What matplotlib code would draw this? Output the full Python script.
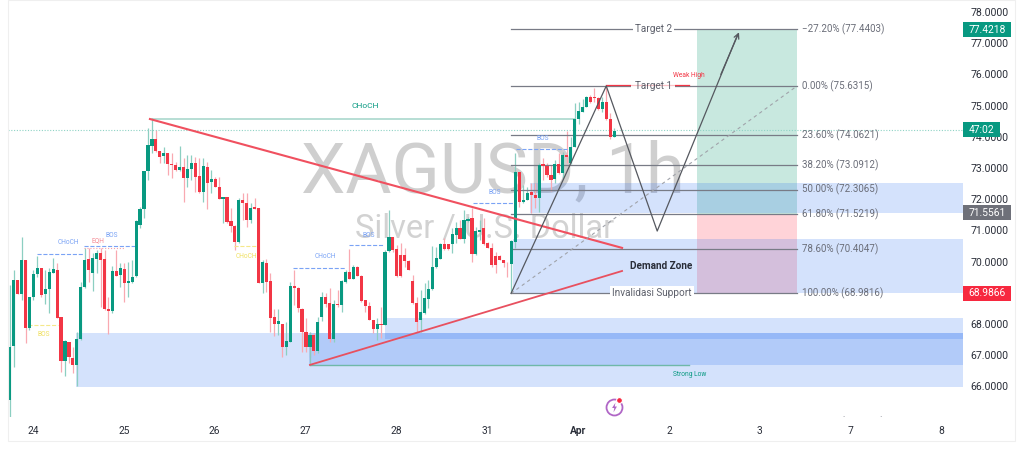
"""XAGUSD 1h chart with fib levels, demand zones and a long/short box."""
import matplotlib
matplotlib.use("Agg")
import matplotlib.pyplot as plt
import numpy as np
from matplotlib.patches import Rectangle

plt.rcParams["font.family"] = ["Roboto", "DejaVu Sans"]

# hourly candles
opens = [65.56, 67.29, 69.41, 68.96, 70.05, 67.87, 68.86, 69.60, 69.78, 68.96, 69.11, 69.62, 69.73, 68.21, 66.83, 67.43,
         66.90, 66.69, 67.51, 69.18, 70.08, 69.65, 70.08, 70.29, 70.09, 68.47, 68.43, 69.71, 69.57, 69.76, 69.30, 69.36,
         69.54, 71.16, 71.68, 72.91, 73.71, 73.92, 73.55, 73.39, 73.47, 73.13, 73.10, 72.94, 73.04, 72.68, 72.97, 73.17,
         72.74, 72.23, 73.02, 72.54, 72.65, 72.40, 72.00, 72.06, 71.30, 71.15, 70.62, 71.97, 71.89, 71.33, 71.74, 71.73,
         69.33, 69.97, 69.38, 68.24, 68.00, 68.00, 67.27, 67.42, 69.22, 69.17, 68.47, 67.74, 67.27, 67.64, 67.15, 68.24,
         68.88, 68.66, 67.53, 68.63, 68.61, 69.36, 69.67, 69.45, 69.84, 69.55, 68.77, 68.58, 68.13, 67.83, 68.00, 67.97,
         70.35, 70.80, 70.39, 70.21, 70.21, 70.03, 69.38, 68.66, 68.13, 68.34, 68.80, 69.12, 69.82, 70.08, 70.56, 70.56,
         70.55, 70.85, 71.07, 70.73, 71.30, 71.39, 70.23, 70.94, 71.07, 70.59, 70.45, 70.18, 70.19, 70.05, 69.97, 69.92,
         70.64, 72.88, 71.91, 71.98, 72.23, 72.15, 72.05, 73.13, 73.07, 72.78, 72.65, 73.13, 72.83, 73.41, 73.15, 73.68,
         74.56, 74.81, 74.97, 75.29, 75.28, 75.26, 74.88, 75.13, 74.57, 74.00]
highs = [69.25, 69.73, 69.41, 70.80, 70.05, 68.88, 69.73, 70.18, 69.78, 69.73, 69.78, 70.13, 69.95, 68.21, 67.49, 67.43,
         67.27, 67.75, 69.36, 70.43, 70.43, 70.27, 70.37, 70.43, 70.37, 68.88, 69.86, 70.37, 69.95, 69.95, 70.00, 70.05,
         71.33, 71.74, 72.91, 74.27, 74.59, 74.22, 73.55, 73.68, 73.47, 73.47, 73.20, 73.71, 73.31, 73.42, 73.42, 73.36,
         73.31, 73.31, 73.20, 72.94, 72.72, 72.72, 72.06, 72.06, 71.71, 71.17, 72.03, 72.19, 72.21, 71.87, 72.03, 71.73,
         70.05, 70.07, 69.62, 68.47, 68.47, 68.00, 68.07, 69.36, 69.73, 69.20, 68.50, 68.18, 67.75, 67.70, 68.24, 69.04,
         69.00, 69.14, 68.77, 69.09, 69.41, 69.73, 70.39, 69.89, 69.87, 69.57, 68.77, 68.72, 68.13, 68.18, 68.56, 70.37,
         71.66, 70.80, 70.53, 70.59, 70.43, 70.05, 69.57, 68.88, 69.09, 69.30, 69.41, 70.50, 70.48, 70.59, 70.75, 70.56,
         71.07, 71.28, 71.33, 71.66, 71.44, 71.71, 71.12, 71.33, 71.39, 70.64, 70.59, 70.32, 70.21, 70.05, 70.00, 70.69,
         73.47, 72.88, 72.46, 72.40, 72.51, 72.51, 73.15, 73.31, 73.15, 73.10, 73.26, 73.47, 73.52, 74.20, 73.98, 75.07,
         75.13, 75.20, 75.31, 75.34, 75.55, 75.29, 75.29, 75.59, 74.75, 74.27]
lows = [65.00, 66.63, 68.96, 68.77, 67.40, 67.81, 68.77, 69.52, 68.88, 68.64, 68.34, 69.62, 68.18, 66.47, 66.33, 66.74,
        66.42, 66.00, 67.49, 69.14, 69.36, 69.07, 69.65, 68.56, 68.45, 67.67, 68.34, 69.54, 69.20, 68.69, 68.88, 69.30,
        69.52, 71.07, 71.39, 72.62, 73.49, 73.52, 73.15, 73.15, 72.78, 72.67, 72.91, 72.91, 71.92, 72.40, 72.62, 72.24,
        72.21, 71.92, 71.68, 72.19, 72.38, 72.00, 71.23, 71.23, 70.96, 70.37, 70.61, 71.33, 71.12, 71.23, 71.68, 69.33,
        69.00, 69.04, 67.75, 67.62, 67.65, 66.93, 67.00, 67.42, 68.61, 68.40, 67.11, 67.11, 66.93, 67.00, 67.06, 68.11,
        68.56, 67.43, 67.43, 68.56, 68.40, 69.30, 69.43, 69.43, 69.54, 68.72, 68.40, 68.13, 67.70, 67.49, 67.54, 67.97,
        70.32, 70.32, 69.52, 69.52, 69.84, 69.73, 68.63, 67.76, 67.76, 68.32, 68.50, 69.09, 69.79, 70.07, 70.37, 70.37,
        70.27, 70.59, 70.72, 70.59, 71.28, 70.00, 70.21, 70.69, 70.53, 70.43, 69.84, 69.63, 70.05, 69.84, 69.52, 69.00,
        70.43, 71.76, 71.87, 71.98, 71.55, 71.71, 71.60, 72.62, 72.72, 72.27, 72.51, 72.81, 72.67, 73.15, 73.13, 73.66,
        74.41, 74.81, 74.94, 75.07, 75.13, 74.86, 74.81, 74.54, 73.92, 73.98]
closes = [67.27, 69.41, 68.96, 70.05, 67.88, 68.88, 69.60, 69.78, 68.94, 69.12, 69.67, 69.76, 68.19, 66.83, 67.47, 66.93,
          66.69, 67.51, 69.20, 70.05, 69.73, 70.11, 70.29, 70.05, 68.47, 68.43, 69.71, 69.55, 69.78, 69.33, 69.38, 69.52,
          71.30, 71.70, 72.91, 73.74, 73.92, 73.56, 73.36, 73.47, 73.13, 73.10, 72.94, 73.04, 72.68, 72.97, 73.17, 72.70,
          72.23, 73.06, 72.53, 72.65, 72.38, 72.02, 72.06, 71.26, 71.14, 70.64, 71.97, 71.89, 71.33, 71.73, 71.70, 69.33,
          70.00, 69.35, 68.20, 68.00, 68.09, 67.27, 67.47, 69.23, 69.14, 68.50, 67.73, 67.27, 67.65, 67.15, 68.07, 68.86,
          68.64, 67.53, 68.64, 68.60, 69.38, 69.67, 69.45, 69.82, 69.55, 68.75, 68.58, 68.13, 67.83, 68.00, 67.98, 70.32,
          70.80, 70.37, 69.55, 69.55, 70.02, 69.73, 68.66, 68.08, 68.40, 68.82, 69.12, 69.82, 70.11, 70.56, 70.39, 70.39,
          70.88, 71.07, 70.73, 71.33, 71.37, 70.23, 70.98, 71.01, 70.56, 70.43, 69.89, 69.89, 70.05, 69.97, 69.95, 70.66,
          72.88, 71.92, 71.99, 72.19, 72.15, 72.05, 73.10, 73.07, 72.78, 72.62, 73.13, 72.83, 73.41, 73.36, 73.68, 74.57,
          74.83, 74.94, 75.28, 75.13, 75.26, 74.89, 75.10, 74.56, 73.98, 74.20]

# fib levels of the drawing
fib_pct = ["\u221227.20%", "0.00%", "23.60%", "38.20%", "50.00%", "61.80%", "78.60%", "100.00%"]
fib_price = [77.4403, 75.6315, 74.0621, 73.0912, 72.3065, 71.5219, 70.4047, 68.9816]

price_ticks = [66, 67, 68, 70, 71, 72, 73, 74, 75, 76, 77, 78]
day_labels = ["24", "25", "26", "27", "28", "31", "Apr", "2", "3", "7", "8"]
bars_per_day = 23
first_day_bar = 5.9

# x0, x1, price low, price high
blue_zones = [(16.8, 241.3, 65.98, 67.71), (75.8, 241.3, 66.69, 67.71), (95.0, 241.3, 67.52, 68.19),
              (131.7, 241.3, 71.56, 72.52), (127.4, 241.3, 68.99, 70.72)]

# x0, x1, price, colour, linestyle
struct_lines = [(6.9, 18.8, 70.25, "#7aa3f5", "--"), (18.8, 31.7, 70.50, "#7aa3f5", "--"),
                (18.8, 29.0, 70.43, "#f7a0a8", ":"), (4.6, 12.2, 67.98, "#f5e88a", "--"),
                (56.7, 62.6, 70.50, "#f5e88a", "--"), (71.7, 85.0, 69.80, "#7aa3f5", "--"),
                (85.9, 94.5, 70.53, "#7aa3f5", "--"), (117.3, 127.4, 71.87, "#7aa3f5", "--"),
                (128.2, 141.1, 73.60, "#7aa3f5", "--")]
# x, price, text, colour
struct_labels = [(14.8, 70.60, "CHoCH", "#7aa3f5"), (25.9, 70.85, "BOS", "#7aa3f5"), (22.4, 70.68, "EQH", "#f58a94"),
                 (8.7, 67.65, "BOS", "#f0e060"), (59.8, 70.18, "CHoCH", "#f0e060"), (79.8, 70.15, "CHoCH", "#7aa3f5"),
                 (91.0, 70.85, "BOS", "#7aa3f5"), (122.9, 72.20, "BOS", "#7aa3f5"), (135.0, 73.95, "BOS", "#7aa3f5"),
                 (172.0, 66.37, "Strong Low", "#089981")]

GREEN, RED = "#089981", "#f23645"
GREY = "#787b86"
PURPLE = "#b066c6"

fig = plt.figure(figsize=(10.24, 4.54), dpi=100)
ax = fig.add_axes([8 / 1024, 37 / 454, 955 / 1024, 417 / 454])
ax.set_xlim(-0.43, 241.3)
ax.set_ylim(65.02, 78.385)

# outer frame of the chart pane
fig.add_artist(Rectangle((8 / 1024, 13 / 454), 1007 / 1024, 441 / 454, fill=False, ec="#efefef", lw=0.8,
                         transform=fig.transFigure))

# watermark
ax.text(122.4, 72.85, "XAGUSD, 1h", fontsize=51, color="#cfcfcf", ha="center", va="center", zorder=0)
ax.text(120.3, 71.05, "Silver / U.S. Dollar", fontsize=23.5, color="#d2d2d2", ha="center", va="center", zorder=0)

# zones
for x0, x1, lo, hi in blue_zones:
    ax.add_patch(Rectangle((x0, lo), x1 - x0, hi - lo, fc="#2a6ff0", alpha=0.2, ec="none", zorder=1))
ax.add_patch(Rectangle((174, 71.5219), 25.3, 77.4403 - 71.5219, fc="#c8e8df", ec="none", zorder=0.5))
ax.add_patch(Rectangle((174, 68.9816), 25.3, 71.5219 - 68.9816, fc="#ffd3d8", ec="none", zorder=0.5))

# candles
x = np.arange(len(opens))
opens, highs, lows, closes = map(np.array, (opens, highs, lows, closes))
up = closes >= opens
ax.vlines(x[up], lows[up], highs[up], color="#8ccfc1", lw=0.9, zorder=2)
ax.vlines(x[~up], lows[~up], highs[~up], color="#f9a9b1", lw=0.9, zorder=2)
ax.bar(x[up], (closes - opens)[up], bottom=opens[up], width=0.8, color=GREEN, zorder=3)
ax.bar(x[~up], (closes - opens)[~up], bottom=opens[~up], width=0.8, color=RED, zorder=3)

# current price dotted line
ax.axhline(74.22, color="#8fd3c5", lw=0.8, ls=(0, (1, 1.5)), zorder=2)

# choch line, strong low
ax.plot([36, 143], [74.57, 74.57], color="#a3d5c9", lw=1.1, zorder=2)
ax.text(89.9, 75.0, "CHoCH", color=GREEN, fontsize=6, ha="center", va="center", zorder=5)
ax.plot([76, 172], [66.69, 66.69], color="#6fb8a8", lw=1.0, zorder=4)
ax.plot([76, 76], [66.69, 67.7], color="#8fc9bd", lw=0.9, zorder=2)

for x0, x1, p, c, ls in struct_lines:
    ax.plot([x0, x1], [p, p], color=c, lw=0.8, ls=ls, zorder=2)
for bx, p, s, c in struct_labels:
    ax.text(bx, p, s, color=c, fontsize=4.8, ha="center", va="center", zorder=5)

# fib lines and their labels
for pct, p in zip(fib_pct, fib_price):
    ax.plot([126.9, 199.3], [p, p], color=GREY, lw=0.9, zorder=2.5)
    ax.text(200.6, p, f"{pct} ({p:.4f})", color="#6a6d78", fontsize=7, va="center", zorder=5)
ax.text(200.6, 64.86, "161.80% (64.8721)", color="#6a6d78", fontsize=7, va="center", zorder=5, clip_on=True)

# weak high line runs pale through the Target 1 label
ax.add_patch(Rectangle((157.3, 75.4), 11.2, 0.46, fc="white", ec="none", zorder=2.55))
ax.plot([151, 172], [75.65, 75.65], color=RED, lw=0.9, zorder=2.6)
ax.add_patch(Rectangle((157.3, 75.4), 11.2, 0.46, fc="white", alpha=0.7, ec="none", zorder=2.7))
ax.text(172, 75.98, "Weak High", color=RED, fontsize=4.8, ha="center", va="center", zorder=5)

box = dict(fc="white", ec="none", pad=1.6)
ax.text(162.9, 77.44, "Target 2", color="#5d606b", fontsize=7.2, ha="center", va="center", zorder=4, bbox=box)
ax.text(162.9, 75.63, "Target 1", color="#5d606b", fontsize=7.2, ha="center", va="center", zorder=4)
ax.text(162.5, 68.98, "Invalidasi Support", color="#5d606b", fontsize=7.2, ha="center", va="center", zorder=4, bbox=box)
ax.text(164.9, 69.85, "Demand Zone", color="#2a2e39", fontsize=7.2, fontweight="bold", ha="center", va="center", zorder=5)

# trend lines
ax.plot([35.5, 155], [74.57, 70.44], color="#f0505f", lw=1.5, zorder=4)
ax.plot([76, 155], [66.69, 69.70], color="#e8505f", lw=1.3, zorder=4)

# projected path
ax.plot([126.9, 199.3], [68.98, 75.63], color="#a0a3aa", lw=0.8, ls=(0, (3, 3)), zorder=4)
ax.plot([126.9, 151, 163.9, 184.1], [68.98, 75.63, 70.98, 77.23], color="#55585f", lw=0.9, zorder=4)
ax.annotate("", xy=(184.6, 77.35), xytext=(180.0, 76.0), zorder=4,
            arrowprops=dict(arrowstyle="->", color="#55585f", lw=0.9, mutation_scale=9, shrinkA=0, shrinkB=0))

# logo
ax.plot([153], [65.34], marker="o", ms=11.5, mfc="white", mec=PURPLE, mew=1.3, zorder=5)
bolt = np.array([[0.2, 1], [-0.5, -0.1], [-0.05, -0.1], [-0.2, -1], [0.5, 0.2], [0.05, 0.2], [0.2, 1]])
ax.plot([153], [65.34], marker=bolt, ms=7, mfc=PURPLE, mec="none", zorder=6)
ax.plot([154.3], [65.56], marker="o", ms=4.2, mfc="#f7283f", mec="white", mew=0.8, zorder=6)

# price tags on the scale
tags = [(77.44, "77.4218", GREEN, 12.2), (74.22, "47:02", GREEN, 9.4), (71.56, "71.5561", "#6e7079", 12.2),
        (68.99, "68.9866", "#f7283f", 12.2)]
for p, s, c, w in tags:
    ax.add_patch(Rectangle((241.3, p - 0.24), w, 0.48, fc=c, ec="none", zorder=6, clip_on=False))
    ax.text(241.3 + w / 2, p - 0.01, s, color="white", fontsize=7.4, ha="center", va="center", zorder=7)

# axes
ax.set_yticks(price_ticks)
ax.set_yticklabels([f"{t:.4f}" for t in price_ticks])
ax.yaxis.tick_right()
ax.tick_params(axis="y", length=0, pad=5.5, labelsize=7.6, labelcolor="#2a2e39")
ax.set_xticks([first_day_bar + bars_per_day * k for k in range(len(day_labels))])
ax.set_xticklabels(day_labels)
ax.tick_params(axis="x", length=0, pad=6.5, labelsize=7.4, labelcolor="#2a2e39")
ax.get_xticklabels()[6].set_fontweight("bold")
for s in ax.spines.values():
    s.set_visible(False)

fig.savefig("out.png", dpi=100)
